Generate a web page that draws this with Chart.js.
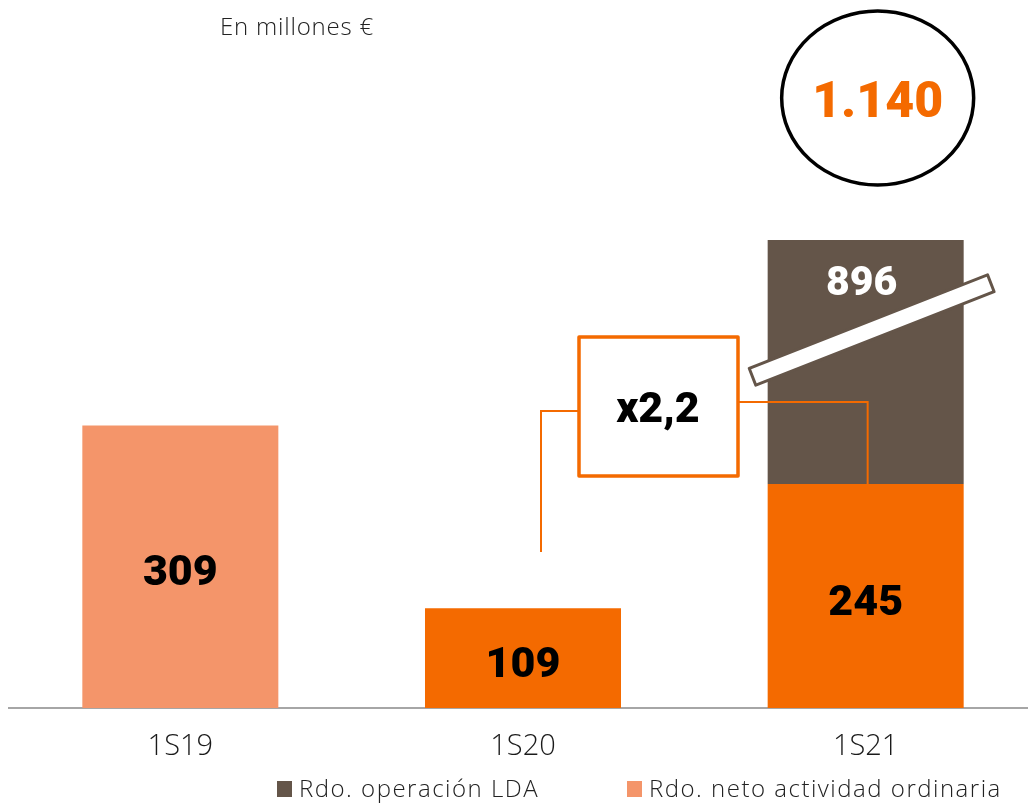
<!DOCTYPE html>
<html lang="es">
<head>
<meta charset="utf-8">
<script src="https://cdn.jsdelivr.net/npm/chart.js@4.4.1/dist/chart.umd.min.js"></script>
<style>
  html, body { margin: 0; padding: 0; overflow: hidden; background: #fff; }
  #contenedor { position: relative; width: 1037px; height: 805px; }
</style>
</head>
<body>
<div id="contenedor"><canvas id="grafico" width="1037" height="805"></canvas></div>
<script>
// datos
const periodos = ['1S19', '1S20', '1S21'];
const rdoOrdinaria = [309, 109, 245];
const rdoLDA = [null, null, 896];
const totalUltimo = '1.140';
const crecimiento = 'x2,2';
const unidades = 'En millones €';
const nombreLDA = 'Rdo. operación LDA';
const nombreOrdinaria = 'Rdo. neto actividad ordinaria';
const ejeMax = 512; // eje cortado, la barra de 896 no cabe a escala

const NARANJA = '#F46A00';
const SALMON = '#F4956A';
const MARRON = '#645549';
const FUENTE_NUM = 'Roboto, "DejaVu Sans", sans-serif';
const FUENTE_TXT = '"Open Sans", "Liberation Sans", sans-serif';

const anotaciones = {
    id: 'anotaciones',
    afterDatasetsDraw(chart) {
        const ctx = chart.ctx;
        const area = chart.chartArea;
        const barras = chart.getDatasetMeta(0).data.map(b => b.getProps(['x', 'y', 'base'], true));
        const lda = chart.getDatasetMeta(1).data[2].getProps(['x', 'y', 'base'], true);

        ctx.save();

        // conectores del x2,2
        const b1 = barras[1];
        const b2 = barras[2];
        ctx.strokeStyle = NARANJA;
        ctx.lineWidth = 2;
        ctx.beginPath();
        ctx.moveTo(b1.x + 18, area.top + 312);
        ctx.lineTo(b1.x + 18, area.top + 171);
        ctx.lineTo(b1.x + 56, area.top + 171);
        ctx.stroke();
        ctx.beginPath();
        ctx.moveTo(b1.x + 214, area.top + 162);
        ctx.lineTo(b2.x + 2, area.top + 162);
        ctx.lineTo(b2.x + 2, b2.y);
        ctx.stroke();

        // caja x2,2
        ctx.fillStyle = '#fff';
        ctx.lineWidth = 3.5;
        ctx.lineJoin = 'round';
        ctx.fillRect(b1.x + 56, area.top + 97, 159, 139);
        ctx.strokeRect(b1.x + 56, area.top + 97, 159, 139);
        ctx.fillStyle = '#000';
        ctx.font = '900 43px ' + FUENTE_NUM;
        ctx.textAlign = 'center';
        ctx.textBaseline = 'alphabetic';
        ctx.fillText(crecimiento, b1.x + 135, area.top + 182);

        // valores de las barras
        barras.forEach((b, i) => {
            ctx.fillText(rdoOrdinaria[i], b.x, (b.y + b.base) / 2 + 18.5);
        });

        // franja de corte del eje
        ctx.save();
        ctx.translate(lda.x + 6, area.top + 90);
        ctx.rotate(-21.4 * Math.PI / 180);
        ctx.fillStyle = '#fff';
        ctx.strokeStyle = MARRON;
        ctx.lineWidth = 3;
        ctx.fillRect(-128, -9, 256, 18);
        ctx.strokeRect(-128, -9, 256, 18);
        ctx.restore();

        ctx.fillStyle = '#fff';
        ctx.font = '900 41px ' + FUENTE_NUM;
        ctx.fillText(rdoLDA[2], lda.x - 4, area.top + 55);

        // total en el circulo
        ctx.strokeStyle = '#000';
        ctx.lineWidth = 3.5;
        ctx.beginPath();
        ctx.ellipse(lda.x + 12, 98, 96, 87, 0, 0, Math.PI * 2);
        ctx.stroke();
        ctx.fillStyle = NARANJA;
        ctx.font = '900 50px ' + FUENTE_NUM;
        ctx.fillText(totalUltimo, lda.x + 12, 117);

        // unidades
        ctx.fillStyle = '#222';
        ctx.font = '300 24px ' + FUENTE_TXT;
        ctx.textAlign = 'left';
        ctx.letterSpacing = '0.8px';
        ctx.fillText(unidades, 220, 35);

        // leyenda
        ctx.letterSpacing = '1.5px';
        const items = [
            { texto: nombreLDA, color: MARRON, x: 277 },
            { texto: nombreOrdinaria, color: SALMON, x: 627 }
        ];
        items.forEach(item => {
            ctx.fillStyle = item.color;
            ctx.fillRect(item.x, 781, 15, 16);
            ctx.fillStyle = '#222';
            ctx.fillText(item.texto, item.x + 22, 797);
        });

        ctx.restore();
    }
};

const ctx = document.querySelector('#grafico').getContext('2d');
const grafico = new Chart(ctx, {
    type: 'bar',
    data: {
        labels: periodos,
        datasets: [{
            label: nombreOrdinaria,
            data: rdoOrdinaria,
            backgroundColor: [SALMON, NARANJA, NARANJA],
            barPercentage: 0.572,
            categoryPercentage: 1
        }, {
            label: nombreLDA,
            data: rdoLDA,
            backgroundColor: MARRON,
            barPercentage: 0.572,
            categoryPercentage: 1,
            clip: 0
        }]
    },
    options: {
        responsive: false,
        animation: false,
        layout: {
            padding: { top: 240, left: 9, right: 0, bottom: 0 }
        },
        scales: {
            x: {
                stacked: true,
                grid: { display: false },
                border: { display: true, color: '#A6A6A6', width: 2 },
                ticks: {
                    color: '#1a1a1a',
                    padding: 13,
                    font: { family: FUENTE_TXT, size: 29, weight: '300' }
                },
                afterFit: (escala) => { escala.height = 97; }
            },
            y: {
                stacked: true,
                display: false,
                min: 0,
                max: ejeMax
            }
        },
        plugins: {
            legend: { display: false },
            tooltip: { enabled: false }
        }
    },
    plugins: [anotaciones]
});
</script>
</body>
</html>
